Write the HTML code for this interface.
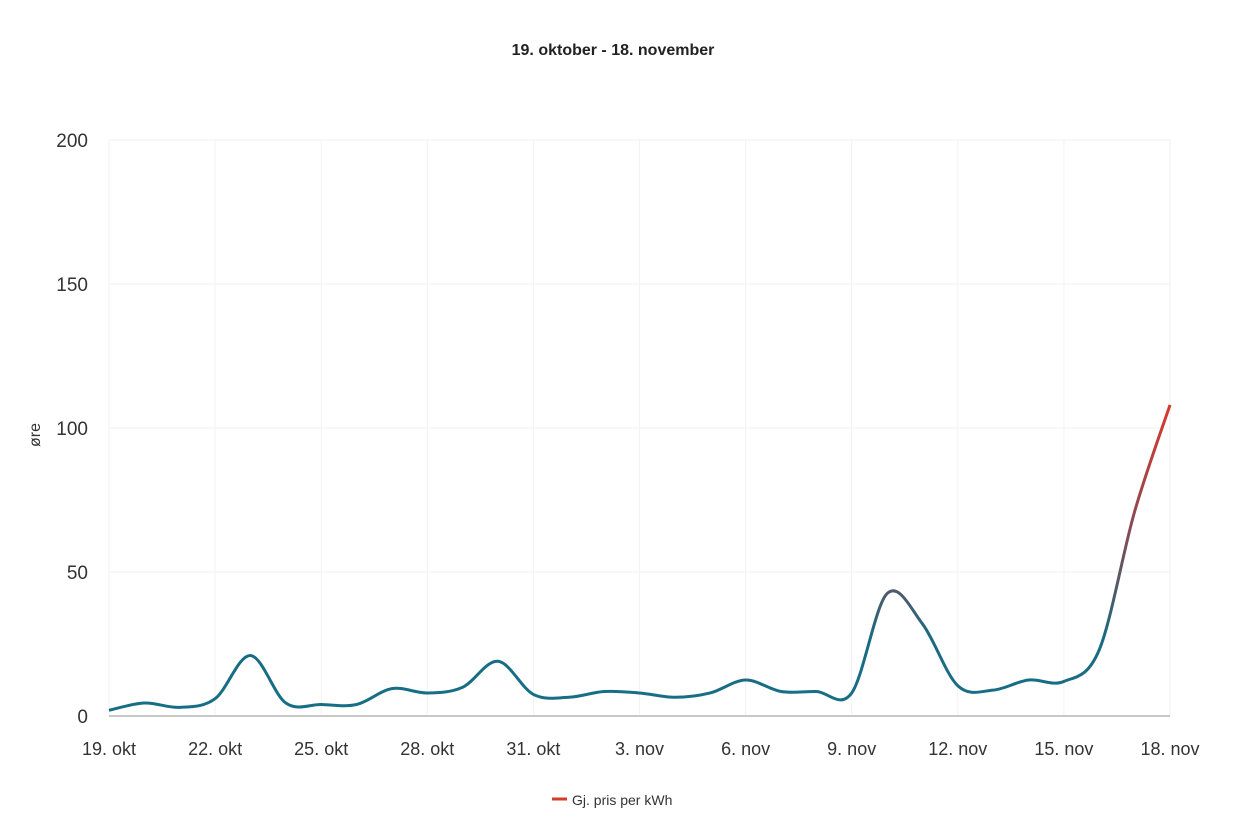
<!DOCTYPE html>
<html><head><meta charset="utf-8"><style>
body{margin:0;background:#fff;width:1233px;height:829px;overflow:hidden;font-family:"Liberation Sans",sans-serif}
</style></head><body>
<svg id="chart" width="1233" height="829" xmlns="http://www.w3.org/2000/svg">
<defs>
<linearGradient id="lg" gradientUnits="userSpaceOnUse" x1="0" y1="716" x2="0" y2="404">
<stop offset="0" stop-color="#166f86"/>
<stop offset="0.25" stop-color="#1a6a82"/>
<stop offset="0.4" stop-color="#505a6a"/>
<stop offset="0.62" stop-color="#8c4a55"/>
<stop offset="1" stop-color="#d9382c"/>
</linearGradient>
</defs>
<text x="613" y="55" text-anchor="middle" font-size="16" font-weight="bold" fill="#222">19. oktober - 18. november</text>
<text transform="translate(40,435) rotate(-90)" text-anchor="middle" font-size="16" fill="#333">øre</text>
<g id="grid"></g><g id="axes"></g><g id="series"></g>
<g>
<line x1="552" y1="799" x2="567" y2="799" stroke="#d63a2f" stroke-width="3"/>
<text x="572" y="805" font-size="14" fill="#333">Gj. pris per kWh</text>
</g>
</svg>
<script>
const days=["19. okt","20. okt","21. okt","22. okt","23. okt","24. okt","25. okt","26. okt","27. okt","28. okt","29. okt","30. okt","31. okt","1. nov","2. nov","3. nov","4. nov","5. nov","6. nov","7. nov","8. nov","9. nov","10. nov","11. nov","12. nov","13. nov","14. nov","15. nov","16. nov","17. nov","18. nov"];
const prices=[2,4.5,3,6,21,4.5,4,4,9.5,8,10,19,7.5,6.5,8.5,8,6.5,8,12.5,8.5,8.5,8,42.5,32,10.5,9,12.5,12,23,71,108];
const yTicks=[0,50,100,150,200];
const x0=109,x1=1170,yb=716,yt=140;
const xs=i=>x0+(x1-x0)*i/(days.length-1);
const ys=v=>yb-(yb-yt)*v/200;
const NS="http://www.w3.org/2000/svg";
function mk(t,a,p){const e=document.createElementNS(NS,t);for(const k in a)e.setAttribute(k,a[k]);p.appendChild(e);return e;}
const grid=document.getElementById('grid'),axes=document.getElementById('axes'),ser=document.getElementById('series');
yTicks.forEach(v=>{
 if(v>0){const l=mk('line',{x1:x0,x2:x1,y1:ys(v),y2:ys(v),stroke:'#f2f2f2','stroke-width':1},grid);
 
 }
 const t=mk('text',{x:88,y:ys(v)+7,'text-anchor':'end','font-size':19,fill:'#333'},axes);t.textContent=v;
 
 
});
for(let i=0;i<days.length;i+=3){
 const l=mk('line',{x1:xs(i),x2:xs(i),y1:yt,y2:yb,stroke:'#f2f2f2','stroke-width':1},grid);
 
 
 const t=mk('text',{x:xs(i),y:755,'text-anchor':'middle','font-size':18,fill:'#333'},axes);t.textContent=days[i];
 
 
}
const ax=mk('line',{x1:x0,x2:x1,y1:yb,y2:yb,stroke:'#c8c8c8','stroke-width':2},axes);


const P=prices.map((v,i)=>[xs(i),ys(v)]);
let d=`M${P[0][0]},${P[0][1]}`;
for(let i=0;i<P.length-1;i++){
 const p0=P[Math.max(0,i-1)],p1=P[i],p2=P[i+1],p3=P[Math.min(P.length-1,i+2)];
 const k=6;
 d+=` C${p1[0]+(p2[0]-p0[0])/k},${p1[1]+(p2[1]-p0[1])/k} ${p2[0]-(p3[0]-p1[0])/k},${p2[1]-(p3[1]-p1[1])/k} ${p2[0]},${p2[1]}`;
}
const line=mk('path',{d:d,fill:'none',stroke:'url(#lg)','stroke-width':3,'stroke-linejoin':'round'},ser);


</script>
</body></html>
